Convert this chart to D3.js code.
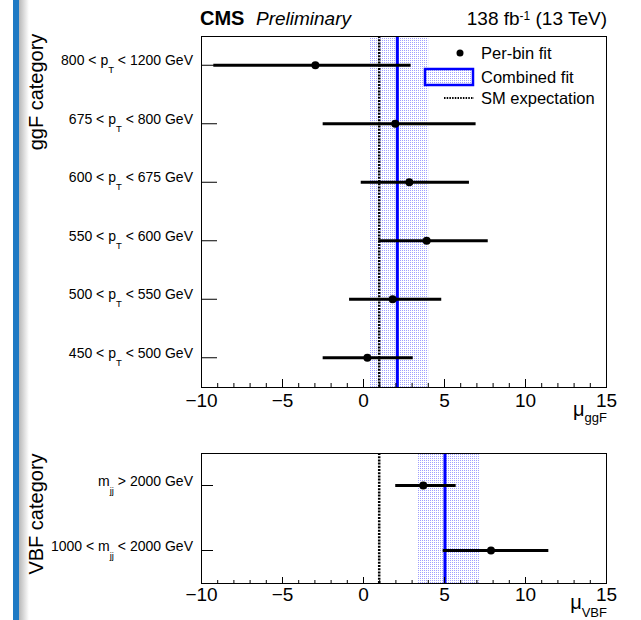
<!DOCTYPE html>
<html>
<head>
<meta charset="utf-8">
<script src="https://cdn.jsdelivr.net/npm/d3@7"></script>
<style>
body { margin: 0; background: #fff; }
svg { display: block; font-family: "Liberation Sans", Arial, Helvetica, sans-serif; }
</style>
</head>
<body>
<script>
/* ------------------------------------------------------------------
Values.
------------------------------------------------------------------ */
var ggfCategories = [
    "800 < p_{T} < 1200 GeV",
    "675 < p_{T} < 800 GeV",
    "600 < p_{T} < 675 GeV",
    "550 < p_{T} < 600 GeV",
    "500 < p_{T} < 550 GeV",
    "450 < p_{T} < 500 GeV"
];
var ggfBest = [-2.94, 1.99, 2.86, 3.93, 1.83, 0.27];
var ggfLow  = [-9.24, -2.49, -0.14, 0.95, -0.86, -2.49];
var ggfHigh = [2.94, 6.95, 6.54, 7.70, 4.83, 3.07];
var ggfCombined = [0.43, 2.12, 4.03];   // low, best, high

var vbfCategories = [
    "m_{jj} > 2000 GeV",
    "1000 < m_{jj} < 2000 GeV"
];
var vbfBest = [3.72, 7.90];
var vbfLow  = [1.99, 4.92];
var vbfHigh = [5.72, 11.44];
var vbfCombined = [3.35, 5.06, 7.18];

var smExpectation = 1;
var xTickValues = [-10, -5, 0, 5, 10, 15];
var legendLabels = ["Per-bin fit", "Combined fit", "SM expectation"];

var width = 641, height = 620;
var font = "'Liberation Sans', Arial, Helvetica, sans-serif";

var svg = d3.select("body")
    .append("svg")
    .attr("width", width)
    .attr("height", height);

var defs = svg.append("defs");

// ROOT style dotted fill for the combined-fit band
var pat = defs.append("pattern")
    .attr("id", "dots")
    .attr("patternUnits", "userSpaceOnUse")
    .attr("width", 2)
    .attr("height", 2);
pat.append("rect").attr("width", 2).attr("height", 2).attr("fill", "#fff");
pat.append("rect").attr("width", 1).attr("height", 1).attr("fill", "#a0a0ff");

var grad = defs.append("linearGradient").attr("id", "shade");
grad.append("stop").attr("offset", "0%").attr("stop-color", "#b8b8b8");
grad.append("stop").attr("offset", "100%").attr("stop-color", "#fff");

// slide decoration on the left
svg.append("rect").attr("x", 19).attr("y", 0).attr("width", 10).attr("height", height)
    .attr("fill", "url(#shade)");
svg.append("rect").attr("x", 13).attr("y", 0).attr("width", 6).attr("height", height)
    .attr("fill", "#1e7ac4");

/* ------------------------------------------------------------------
Writes "a_{b}" / "a^{b}" strings as tspans with sub/superscripts.
------------------------------------------------------------------ */
function richText(sel, str, o) {
    var parts = str.split(/([_^]\{[^}]*\})/);
    var cur = 0;
    parts.forEach(function(p) {
        if (!p) return;
        var m = p.match(/^([_^])\{([^}]*)\}$/);
        var target = 0, size = null, txt = p;
        if (m) {
            txt = m[2];
            target = m[1] === "_" ? o.subDy : -o.supDy;
            size = m[1] === "_" ? o.subSize : o.supSize;
        }
        var ts = sel.append("tspan").attr("dy", target - cur).text(txt);
        if (size) ts.attr("font-size", size);
        cur = target;
    });
}

var xScale = d3.scaleLinear().domain([-10, 15]).range([201, 606]);

/* ------------------------------------------------------------------
Draws one panel: frame, band, lines, error bars, axes.
------------------------------------------------------------------ */
function drawPanel(p) {
    var g = svg.append("g");
    var yScale = d3.scaleBand().domain(p.categories).range([p.top, p.bottom]);
    var yc = function(i) { return yScale(p.categories[i]) + yScale.bandwidth() / 2; };

    g.append("rect")
        .attr("x", xScale(p.combined[0]))
        .attr("y", p.top)
        .attr("width", xScale(p.combined[2]) - xScale(p.combined[0]))
        .attr("height", p.bottom - p.top)
        .attr("fill", "url(#dots)");

    g.append("line")
        .attr("x1", xScale(smExpectation)).attr("x2", xScale(smExpectation))
        .attr("y1", p.top).attr("y2", p.bottom)
        .attr("stroke", "#000").attr("stroke-width", 2.5)
        .attr("stroke-dasharray", "2,1.2");

    g.append("line")
        .attr("x1", xScale(p.combined[1])).attr("x2", xScale(p.combined[1]))
        .attr("y1", p.top).attr("y2", p.bottom)
        .attr("stroke", "#0000ff").attr("stroke-width", 3);

    // y axis with ticks pointing into the frame
    var yAxis = d3.axisLeft(yScale).tickSizeInner(-p.ytick).tickSizeOuter(0).tickPadding(8);
    var ya = g.append("g")
        .attr("transform", "translate(" + xScale(-10) + ",0)")
        .call(yAxis);
    ya.select(".domain").remove();
    ya.selectAll(".tick line").attr("stroke", "#000");
    ya.selectAll(".tick text")
        .attr("font-family", font)
        .attr("font-size", 14)
        .attr("fill", "#000")
        .each(function(d) {
            var t = d3.select(this);
            t.text(null);
            richText(t, d, {subSize: 9.5, subDy: 8});
        });

    // error bars
    g.selectAll(".bar")
        .data(p.best)
        .enter()
        .append("line")
        .attr("x1", function(d, i) { return xScale(p.low[i]); })
        .attr("x2", function(d, i) { return xScale(p.high[i]); })
        .attr("y1", function(d, i) { return yc(i); })
        .attr("y2", function(d, i) { return yc(i); })
        .attr("stroke", "#000")
        .attr("stroke-width", 3);

    g.selectAll(".pt")
        .data(p.best)
        .enter()
        .append("circle")
        .attr("cx", function(d) { return xScale(d); })
        .attr("cy", function(d, i) { return yc(i); })
        .attr("r", 4)
        .attr("fill", "#000");

    // x axis, minor then major ticks
    var minor = d3.axisBottom(xScale).tickValues(d3.range(-10, 16)).tickFormat("")
        .tickSizeInner(-p.minor).tickSizeOuter(0);
    var xm = g.append("g").attr("transform", "translate(0," + p.bottom + ")").call(minor);
    xm.select(".domain").remove();
    xm.selectAll("line").attr("stroke", "#000");

    var xAxis = d3.axisBottom(xScale).tickValues(xTickValues)
        .tickSizeInner(-p.major).tickSizeOuter(0)
        .tickPadding(p.labelBaseline - p.bottom - 13.5);
    var xa = g.append("g").attr("transform", "translate(0," + p.bottom + ")").call(xAxis);
    xa.select(".domain").remove();
    xa.selectAll("line").attr("stroke", "#000");
    xa.selectAll("text").attr("font-family", font).attr("font-size", 19).attr("fill", "#000");

    // frame
    g.append("rect")
        .attr("x", xScale(-10) + 0.5)
        .attr("y", p.top + 0.5)
        .attr("width", xScale(15) - xScale(-10))
        .attr("height", p.bottom - p.top)
        .attr("fill", "none")
        .attr("stroke", "#000");

    // axis title
    var title = g.append("text")
        .attr("x", 607)
        .attr("y", p.muY)
        .attr("text-anchor", "end")
        .attr("font-size", 20);
    richText(title, "\u03bc_{" + p.sub + "}", {subSize: 13, subDy: p.subY - p.muY});

    // category title on the left
    svg.append("text")
        .attr("transform", "translate(43," + p.catY + ") rotate(-90)")
        .attr("text-anchor", "middle")
        .attr("font-size", 20)
        .text(p.catTitle);
}

drawPanel({
    top: 36, bottom: 387, categories: ggfCategories,
    best: ggfBest, low: ggfLow, high: ggfHigh, combined: ggfCombined,
    ytick: 16, major: 8, minor: 4, labelBaseline: 407,
    muY: 416, subY: 422, sub: "ggF",
    catY: 92, catTitle: "ggF category"
});

drawPanel({
    top: 453, bottom: 583, categories: vbfCategories,
    best: vbfBest, low: vbfLow, high: vbfHigh, combined: vbfCombined,
    ytick: 12, major: 6, minor: 3, labelBaseline: 601,
    muY: 609, subY: 617, sub: "VBF",
    catY: 514, catTitle: "VBF category"
});

// header
svg.append("text").attr("x", 200).attr("y", 25)
    .attr("font-size", 20).attr("font-weight", "bold").text("CMS");
svg.append("text").attr("x", 256).attr("y", 25)
    .attr("font-size", 19).attr("font-style", "italic").text("Preliminary");
var lumi = svg.append("text").attr("x", 607).attr("y", 25)
    .attr("text-anchor", "end").attr("font-size", 19);
richText(lumi, "138 fb^{-1} (13 TeV)", {supSize: 12, supDy: 5});

/* ------------------------------------------------------------------
Legend
------------------------------------------------------------------ */
var legend = svg.append("g");
var legendY = [53, 77, 98];

legend.append("circle").attr("cx", 460).attr("cy", legendY[0]).attr("r", 3.5).attr("fill", "#000");
legend.append("rect")
    .attr("x", 425).attr("y", legendY[1] - 8)
    .attr("width", 48).attr("height", 16)
    .attr("fill", "url(#dots)")
    .attr("stroke", "#0000ff")
    .attr("stroke-width", 2.5);
legend.append("line")
    .attr("x1", 444).attr("x2", 474)
    .attr("y1", legendY[2]).attr("y2", legendY[2])
    .attr("stroke", "#000").attr("stroke-width", 2)
    .attr("stroke-dasharray", "1.5,1.2");

legend.selectAll(".lab")
    .data(legendLabels)
    .enter()
    .append("text")
    .attr("x", 481)
    .attr("y", function(d, i) { return legendY[i] + 6; })
    .attr("font-size", 16.5)
    .text(function(d) { return d; });
</script>
</body>
</html>
